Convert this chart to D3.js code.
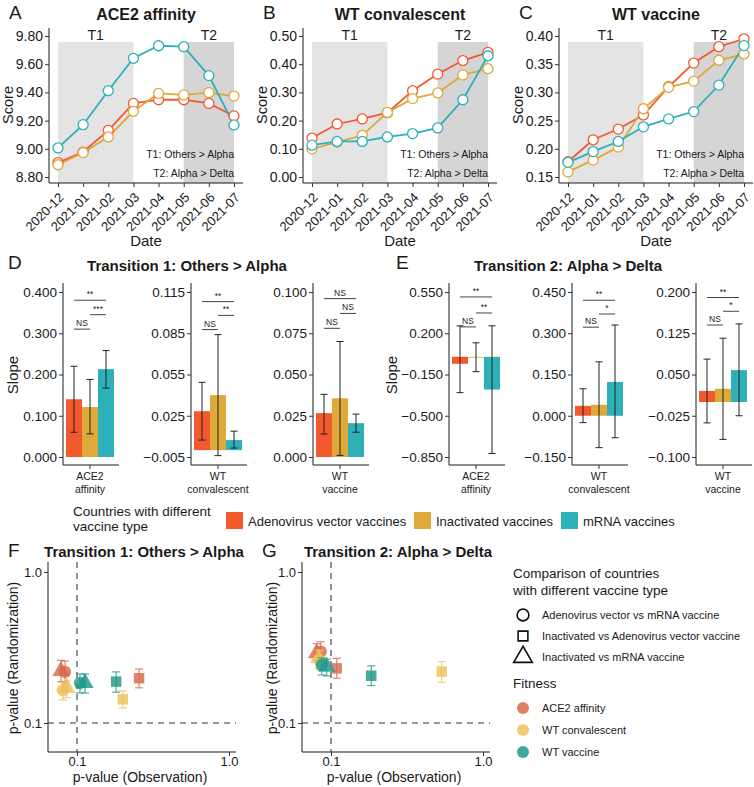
<!DOCTYPE html>
<html>
<head>
<meta charset="utf-8">
<script src="https://cdn.jsdelivr.net/npm/d3@7"></script>
<style>
  body { margin: 0; background: #fff; }
  text { font-family: "Liberation Sans", Arial, sans-serif; fill: #1a1a1a; }
</style>
</head>
<body>
<svg id="fig" width="754" height="787"></svg>
<script>
// ---- data ----
const dates = ["2020-12", "2021-01", "2021-02", "2021-03", "2021-04", "2021-05", "2021-06", "2021-07"];
const vaccineTypes = ["Adenovirus vector vaccines", "Inactivated vaccines", "mRNA vaccines"];
const vaccineColors = ["#F25A2E", "#DEA83A", "#2DB0B8"];

const ace2Adeno = [8.902, 8.977, 9.131, 9.322, 9.348, 9.348, 9.322, 9.233];
const ace2Inact = [8.887, 8.973, 9.084, 9.266, 9.393, 9.382, 9.398, 9.374];
const ace2Mrna  = [9.006, 9.171, 9.412, 9.642, 9.731, 9.724, 9.519, 9.169];
const convAdeno = [0.138, 0.188, 0.206, 0.228, 0.306, 0.365, 0.413, 0.442];
const convInact = [0.100, 0.124, 0.148, 0.229, 0.278, 0.298, 0.362, 0.384];
const convMrna  = [0.113, 0.126, 0.126, 0.142, 0.154, 0.174, 0.274, 0.430];
const vaccAdeno = [0.177, 0.216, 0.235, 0.260, 0.310, 0.352, 0.381, 0.395];
const vaccInact = [0.159, 0.180, 0.203, 0.271, 0.309, 0.320, 0.357, 0.368];
const vaccMrna  = [0.176, 0.195, 0.213, 0.239, 0.253, 0.266, 0.313, 0.383];

const ace2Ticks = [8.8, 9.0, 9.2, 9.4, 9.6, 9.8];
const convTicks = [0, 0.1, 0.2, 0.3, 0.4, 0.5];
const vaccTicks = [0.15, 0.2, 0.25, 0.3, 0.35, 0.4];

// transition windows, as date indices
const periodLabels = ["T1", "T2"];
const periodStart = [0, 5];
const periodEnd = [3, 7];
const periodFill = ["#E4E4E4", "#D5D5D5"];

// slopes (rows: ACE2 affinity, WT convalescent, WT vaccine; cols: vaccine type)
const fitnessLabels = [["ACE2", "affinity"], ["WT", "convalescent"], ["WT", "vaccine"]];
const t1Slope = [[0.140, 0.121, 0.213], [0.0283, 0.040, 0.0073], [0.0266, 0.0356, 0.0205]];
const t1Lo    = [[0.060, 0.056, 0.167], [0.0073, -0.004, 0.0015], [0.0139, 0.001, 0.015]];
const t1Hi    = [[0.220, 0.188, 0.258], [0.0493, 0.084, 0.0138], [0.038, 0.070, 0.026]];
const t1Ticks = [[0, 0.1, 0.2, 0.3, 0.4], [-0.005, 0.025, 0.055, 0.085, 0.115], [0, 0.025, 0.05, 0.075, 0.1]];
const t1Sig   = [["NS", "***", "**"], ["NS", "**", "**"], ["NS", "NS", "NS"]];
const t1SigY  = [[0.31, 0.345, 0.38], [0.0877, 0.098, 0.108], [0.078, 0.087, 0.096]];

const t2Slope = [[-0.059, -0.004, -0.278], [0.036, 0.040, 0.123], [0.020, 0.024, 0.058]];
const t2Lo    = [[-0.304, -0.126, -0.82], [-0.025, -0.116, -0.080], [-0.038, -0.068, -0.025]];
const t2Hi    = [[0.263, 0.119, 0.263], [0.098, 0.196, 0.330], [0.078, 0.116, 0.142]];
const t2Ticks = [[-0.85, -0.5, -0.15, 0.2, 0.55], [-0.15, 0, 0.15, 0.3, 0.45], [-0.1, -0.025, 0.05, 0.125, 0.2]];
const t2Sig   = [["NS", "**", "**"], ["NS", "*", "**"], ["NS", "*", "**"]];
const t2SigY  = [[0.254, 0.372, 0.508], [0.322, 0.37, 0.42], [0.140, 0.165, 0.190]];
const sigPairs = [[0, 1], [1, 2], [0, 2]];

// p-values (rows: fitness; cols: Adeno vs mRNA, Inact vs Adeno, Inact vs mRNA)
const comparisons = ["Adenovirus vector vs mRNA vaccine", "Inactivated vs Adenovirus vector vaccine", "Inactivated vs mRNA vaccine"];
const fitnessNames = ["ACE2 affinity", "WT convalescent", "WT vaccine"];
const fitnessColors = ["#D9684C", "#EDC25C", "#1F998A"];
const t1Obs    = [[0.0834, 0.256, 0.0785], [0.0806, 0.200, 0.0856], [0.1046, 0.181, 0.1129]];
const t1Rand   = [[0.218, 0.198, 0.221], [0.165, 0.1435, 0.171], [0.184, 0.188, 0.184]];
const t1RandLo = [[0.184, 0.171, 0.188], [0.142, 0.126, 0.147], [0.158, 0.160, 0.158]];
const t1RandHi = [[0.257, 0.228, 0.260], [0.186, 0.163, 0.190], [0.211, 0.218, 0.211]];
const t2Obs    = [[0.0855, 0.109, 0.0804], [0.0846, 0.535, 0.083], [0.0868, 0.184, 0.0937]];
const t2Rand   = [[0.297, 0.230, 0.290], [0.259, 0.219, 0.268], [0.242, 0.2056, 0.236]];
const t2RandLo = [[0.269, 0.198, 0.262], [0.225, 0.186, 0.230], [0.208, 0.177, 0.205]];
const t2RandHi = [[0.345, 0.268, 0.335], [0.300, 0.255, 0.305], [0.270, 0.239, 0.265]];

const svg = d3.select("#fig");
const ink = "#1a1a1a";

function styleAxis(g) {
  g.select(".domain").remove();
  g.selectAll(".tick line").attr("stroke", "#333");
  g.selectAll(".tick text").attr("fill", "#222");
}

// ---- A, B, C: monthly score lines ----
function linePanel(ax, letter, title, ticks, series) {
  const x = d3.scalePoint().domain(dates).range([ax + 9, ax + 185]);
  const y = d3.scaleLinear().domain([ticks[0], ticks[ticks.length - 1]]).range([177, 36]);
  const g = svg.append("g");
  const yTop = y.invert(42);

  periodLabels.forEach((lab, i) => {
    g.append("rect")
      .attr("x", x(dates[periodStart[i]])).attr("width", x(dates[periodEnd[i]]) - x(dates[periodStart[i]]))
      .attr("y", y(yTop)).attr("height", 183 - y(yTop))
      .attr("fill", periodFill[i]);
    g.append("text")
      .attr("x", (x(dates[periodStart[i]]) + x(dates[periodEnd[i]])) / 2).attr("y", 40)
      .attr("text-anchor", "middle").attr("font-size", 14).text(lab);
  });

  g.append("text").attr("x", ax + 185).attr("y", 158).attr("text-anchor", "end")
    .attr("font-size", 10.5).text("T1: Others > Alpha");
  g.append("text").attr("x", ax + 185).attr("y", 177).attr("text-anchor", "end")
    .attr("font-size", 10.5).text("T2: Alpha > Delta");

  const line = d3.line().x((d, i) => x(dates[i])).y(d => y(d));
  series.forEach((s, k) => {
    g.append("path").datum(s).attr("d", line)
      .attr("fill", "none").attr("stroke", vaccineColors[k]).attr("stroke-width", 1.8);
  });
  series.forEach((s, k) => {
    g.selectAll(null).data(s).enter().append("circle")
      .attr("cx", (d, i) => x(dates[i])).attr("cy", d => y(d)).attr("r", 5)
      .attr("fill", "#fff").attr("stroke", vaccineColors[k]).attr("stroke-width", 1.3);
  });

  g.append("line").attr("x1", ax).attr("x2", ax).attr("y1", 28).attr("y2", 183)
    .attr("stroke", ink);
  g.append("line").attr("x1", ax).attr("x2", ax + 194).attr("y1", 183).attr("y2", 183)
    .attr("stroke", ink);

  g.append("g").attr("transform", `translate(${ax},0)`)
    .call(d3.axisLeft(y).tickValues(ticks).tickFormat(d3.format(".2f")).tickSize(4).tickPadding(2))
    .call(styleAxis)
    .selectAll("text").attr("font-size", 14);

  const xa = g.append("g").attr("transform", "translate(0,183)")
    .call(d3.axisBottom(x).tickSize(4))
    .call(styleAxis);
  xa.selectAll(".tick text")
    .attr("font-size", 13)
    .attr("text-anchor", "end").attr("x", 0).attr("y", 0).attr("dy", "0.35em")
    .attr("transform", "translate(3,12) rotate(-45)");

  g.append("text").attr("x", ax + 97).attr("y", 246).attr("text-anchor", "middle")
    .attr("font-size", 15).text("Date");
  g.append("text").attr("transform", `translate(${ax - 36},105) rotate(-90)`)
    .attr("text-anchor", "middle").attr("font-size", 14.5).text("Score");
  g.append("text").attr("x", ax + 97).attr("y", 20).attr("text-anchor", "middle")
    .attr("font-size", 16).attr("font-weight", "bold").text(title);
  g.append("text").attr("x", ax - 40).attr("y", 19).attr("font-size", 19).text(letter);
}

linePanel(49, "A", "ACE2 affinity", ace2Ticks, [ace2Adeno, ace2Inact, ace2Mrna]);
linePanel(303, "B", "WT convalescent", convTicks, [convAdeno, convInact, convMrna]);
linePanel(559, "C", "WT vaccine", vaccTicks, [vaccAdeno, vaccInact, vaccMrna]);

// ---- D, E: slope bars ----
function barSub(ax, f, vals, lo, hi, ticks, sig, sigY) {
  const g = svg.append("g");
  const y = d3.scaleLinear().domain([ticks[0], ticks[4]]).range([457, 292]);
  const xb = d3.scaleBand().domain([0, 1, 2]).range([ax + 3, ax + 51]);
  const cx = i => xb(i) + xb.bandwidth() / 2;

  g.selectAll(null).data(vals).enter().append("rect")
    .attr("x", (d, i) => xb(i)).attr("width", xb.bandwidth())
    .attr("y", d => Math.min(y(0), y(d))).attr("height", d => Math.max(0.8, Math.abs(y(d) - y(0))))
    .attr("fill", (d, i) => vaccineColors[i]);

  vals.forEach((d, i) => {
    g.append("line").attr("x1", cx(i)).attr("x2", cx(i)).attr("y1", y(lo[i])).attr("y2", y(hi[i]))
      .attr("stroke", "#222").attr("stroke-width", 1);
    [lo[i], hi[i]].forEach(v => g.append("line")
      .attr("x1", cx(i) - 3.5).attr("x2", cx(i) + 3.5).attr("y1", y(v)).attr("y2", y(v))
      .attr("stroke", "#222").attr("stroke-width", 1));
  });

  sigPairs.forEach((p, k) => {
    g.append("line").attr("x1", cx(p[0])).attr("x2", cx(p[1])).attr("y1", y(sigY[k])).attr("y2", y(sigY[k]))
      .attr("stroke", "#444").attr("stroke-width", 1);
    g.append("text").attr("x", (cx(p[0]) + cx(p[1])) / 2).attr("y", y(sigY[k]) - 3)
      .attr("text-anchor", "middle").attr("font-size", 8.5).text(sig[k]);
  });

  g.append("line").attr("x1", ax).attr("x2", ax).attr("y1", 283).attr("y2", 465).attr("stroke", ink);
  g.append("line").attr("x1", ax).attr("x2", ax + 56).attr("y1", 465).attr("y2", 465).attr("stroke", ink);
  g.append("line").attr("x1", ax + 27).attr("x2", ax + 27).attr("y1", 465).attr("y2", 469).attr("stroke", "#333");
  g.append("g").attr("transform", `translate(${ax},0)`)
    .call(d3.axisLeft(y).tickValues(ticks).tickFormat(d3.format(".3f")).tickSize(4).tickPadding(2))
    .call(styleAxis)
    .selectAll("text").attr("font-size", 13.5);

  fitnessLabels[f].forEach((t, j) => g.append("text")
    .attr("x", ax + 27).attr("y", 480 + j * 13).attr("text-anchor", "middle")
    .attr("font-size", 10.5).text(t));
}

const dAxes = [63, 191, 313];
const eAxes = [449, 572, 696];
dAxes.forEach((ax, f) => barSub(ax, f, t1Slope[f], t1Lo[f], t1Hi[f], t1Ticks[f], t1Sig[f], t1SigY[f]));
eAxes.forEach((ax, f) => barSub(ax, f, t2Slope[f], t2Lo[f], t2Hi[f], t2Ticks[f], t2Sig[f], t2SigY[f]));

svg.append("text").attr("x", 8).attr("y", 269).attr("font-size", 19).text("D");
svg.append("text").attr("x", 187).attr("y", 271).attr("text-anchor", "middle")
  .attr("font-size", 15).attr("font-weight", "bold").text("Transition 1: Others > Alpha");
svg.append("text").attr("x", 396).attr("y", 269).attr("font-size", 19).text("E");
svg.append("text").attr("x", 568).attr("y", 271).attr("text-anchor", "middle")
  .attr("font-size", 15).attr("font-weight", "bold").text("Transition 2: Alpha > Delta");
[[18, 375], [397, 375]].forEach(p => svg.append("text")
  .attr("transform", `translate(${p[0]},${p[1]}) rotate(-90)`)
  .attr("text-anchor", "middle").attr("font-size", 15).text("Slope"));

// vaccine-type legend
svg.append("text").attr("x", 73).attr("y", 516).attr("font-size", 13.5).text("Countries with different");
svg.append("text").attr("x", 73).attr("y", 531).attr("font-size", 13.5).text("vaccine type");
const legX = [226, 414, 561];
vaccineTypes.forEach((t, i) => {
  svg.append("rect").attr("x", legX[i]).attr("y", 512).attr("width", 17).attr("height", 17)
    .attr("fill", vaccineColors[i]);
  svg.append("text").attr("x", legX[i] + 22).attr("y", 526).attr("font-size", 13).text(t);
});

// ---- F, G: p-value scatter ----
const shapes = [d3.symbolCircle, d3.symbolSquare, d3.symbolTriangle];
const shapeSize = [120, 110, 130];

function scatterPanel(ax, yLab, letter, title, obs, rand, lo, hi) {
  const g = svg.append("g");
  const x = d3.scaleLog().domain([0.1, 1]).range([ax + 29, ax + 181]);
  const y = d3.scaleLog().domain([0.1, 1]).range([723, 572]);

  g.append("line").attr("x1", ax).attr("x2", ax + 188).attr("y1", y(0.1)).attr("y2", y(0.1))
    .attr("stroke", "#777").attr("stroke-width", 1.6).attr("stroke-dasharray", "6,5");
  g.append("line").attr("x1", x(0.1)).attr("x2", x(0.1)).attr("y1", 562).attr("y2", 752)
    .attr("stroke", "#777").attr("stroke-width", 1.6).attr("stroke-dasharray", "6,5");

  obs.forEach((row, f) => row.forEach((v, c) => {
    const px = x(v);
    const col = fitnessColors[f];
    const eg = g.append("g").attr("opacity", 0.8);
    eg.append("line").attr("x1", px).attr("x2", px).attr("y1", y(lo[f][c])).attr("y2", y(hi[f][c]))
      .attr("stroke", col).attr("stroke-width", 1.2);
    [lo[f][c], hi[f][c]].forEach(w => eg.append("line")
      .attr("x1", px - 4).attr("x2", px + 4).attr("y1", y(w)).attr("y2", y(w))
      .attr("stroke", col).attr("stroke-width", 1.2));
    g.append("path").attr("d", d3.symbol(shapes[c], shapeSize[c])())
      .attr("transform", `translate(${px},${y(rand[f][c])})`)
      .attr("fill", col).attr("opacity", 0.82);
  }));

  g.append("line").attr("x1", ax).attr("x2", ax).attr("y1", 562).attr("y2", 752).attr("stroke", ink);
  g.append("line").attr("x1", ax).attr("x2", ax + 188).attr("y1", 752).attr("y2", 752).attr("stroke", ink);
  g.append("g").attr("transform", `translate(${ax},0)`)
    .call(d3.axisLeft(y).tickValues([0.1, 1]).tickFormat(d3.format(".1f")).tickSize(4).tickPadding(2))
    .call(styleAxis)
    .selectAll("text").attr("font-size", 13);
  g.append("g").attr("transform", "translate(0,752)")
    .call(d3.axisBottom(x).tickValues([0.1, 1]).tickFormat(d3.format(".1f")).tickSize(4).tickPadding(1))
    .call(styleAxis)
    .selectAll("text").attr("font-size", 13);

  g.append("text").attr("x", ax + 92).attr("y", 782).attr("text-anchor", "middle")
    .attr("font-size", 14).text("p-value (Observation)");
  g.append("text").attr("transform", `translate(${yLab},658) rotate(-90)`)
    .attr("text-anchor", "middle").attr("font-size", 14).text("p-value (Randomization)");
  g.append("text").attr("x", ax - 40).attr("y", 557).attr("font-size", 19).text(letter);
  g.append("text").attr("x", ax + 96).attr("y", 557).attr("text-anchor", "middle")
    .attr("font-size", 15).attr("font-weight", "bold").text(title);
}

scatterPanel(48, 18, "F", "Transition 1: Others > Alpha", t1Obs, t1Rand, t1RandLo, t1RandHi);
scatterPanel(302, 277, "G", "Transition 2: Alpha > Delta", t2Obs, t2Rand, t2RandLo, t2RandHi);

// shape / colour legend
svg.append("text").attr("x", 513).attr("y", 578).attr("font-size", 13.5).text("Comparison of countries");
svg.append("text").attr("x", 513).attr("y", 595).attr("font-size", 13.5).text("with different vaccine type");
comparisons.forEach((t, i) => {
  svg.append("path").attr("d", d3.symbol(shapes[i], [110, 95, 150][i])())
    .attr("transform", `translate(523,${615 + i * 21})`)
    .attr("fill", "none").attr("stroke", "#111").attr("stroke-width", 1.6);
  svg.append("text").attr("x", 542).attr("y", 619 + i * 21).attr("font-size", 11).text(t);
});
svg.append("text").attr("x", 513).attr("y", 688).attr("font-size", 13.5).text("Fitness");
fitnessNames.forEach((t, i) => {
  svg.append("circle").attr("cx", 523).attr("cy", 708 + i * 22).attr("r", 6)
    .attr("fill", fitnessColors[i]).attr("opacity", 0.85);
  svg.append("text").attr("x", 542).attr("y", 712 + i * 22).attr("font-size", 11).text(t);
});
</script>
</body>
</html>
